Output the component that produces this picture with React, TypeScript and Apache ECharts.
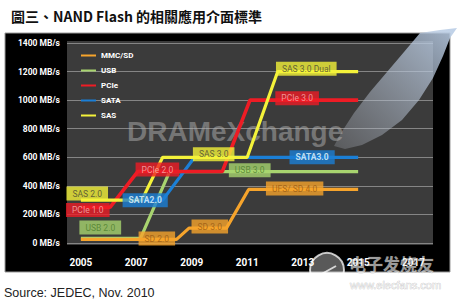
import React, { useEffect, useRef } from "react";
import * as echarts from "echarts";

const titleText = "圖三、NAND Flash 的相關應用介面標準";
const sourceText = "Source: JEDEC, Nov. 2010";
const watermarkText = "DRAMeXchange";

const yearTicks = [2005, 2007, 2009, 2011, 2013, 2015, 2017];

const seriesNames = ["MMC/SD", "USB", "PCIe", "SATA", "SAS"];

const mmcYears = [2005, 2008.45, 2008.9, 2010.25, 2011.05, 2015];
const mmcSpeeds = [25, 25, 104, 104, 375, 375];
const usbYears = [2005, 2007.15, 2008.2, 2015];
const usbSpeeds = [32, 32, 500, 500];
const pcieYears = [2005, 2006.05, 2007.05, 2010.1, 2011.1, 2015];
const pcieSpeeds = [250, 250, 500, 500, 1000, 1000];
const sataYears = [2006.8, 2007.95, 2009.1, 2015];
const sataSpeeds = [300, 300, 600, 600];
const sasYears = [2005, 2007.2, 2007.95, 2011, 2012.1, 2015];
const sasSpeeds = [300, 300, 600, 600, 1200, 1200];

const labelTexts = ["SAS 2.0", "PCIe 1.0", "USB 2.0", "SATA2.0", "PCIe 2.0", "SD 2.0", "SAS 3.0", "SD 3.0", "USB 3.0", "SAS 3.0 Dual", "PCIe 3.0", "SATA3.0", "UFS/ SD 4.0"];
const labelYears = [2005.23, 2005.25, 2005.7, 2007.32, 2007.76, 2007.74, 2009.79, 2009.65, 2011.09, 2013.13, 2012.8, 2013.34, 2012.71];
const labelSpeeds = [346, 231, 108, 300, 514, 31, 622, 115, 510, 1220, 1014, 601, 381];
const labelFamilies = ["SAS", "PCIe", "USB", "SATA", "PCIe", "MMC/SD", "SAS", "MMC/SD", "USB", "SAS", "PCIe", "SATA", "MMC/SD"];

const lineColors: Record<string, string> = {
  "MMC/SD": "#f6a42c",
  USB: "#a8d46f",
  PCIe: "#ee1c25",
  SATA: "#1b7fd6",
  SAS: "#f4f23a",
};
const boxTextColors: Record<string, string> = {
  "MMC/SD": "#9a5a12",
  USB: "#4d7d2c",
  PCIe: "#f9b3b3",
  SATA: "#e8fbff",
  SAS: "#444433",
};

const zip = (xs: number[], ys: number[]) => xs.map((x, i) => [x, ys[i]]);

export default function App() {
  const ref = useRef<HTMLDivElement>(null);
  useEffect(() => {
    document.body.style.margin = "0";
    if (!ref.current) return;
    const chart = echarts.init(ref.current, undefined, { renderer: "svg" });
    const lineSeries = (name: string, xs: number[], ys: number[], width = 3.2) => ({
      type: "line",
      name,
      data: zip(xs, ys),
      symbol: "none",
      lineStyle: { color: lineColors[name], width },
      itemStyle: { color: lineColors[name] },
      z: 3,
    });
    chart.setOption({
      animation: false,
      backgroundColor: "#ffffff",
      title: {
        text: titleText,
        left: 6,
        top: 4,
        textStyle: { fontSize: 14, fontWeight: "bold", color: "#111", fontFamily: "Noto Sans CJK TC" },
      },
      legend: {
        data: seriesNames,
        orient: "vertical",
        left: 76,
        top: 46,
        icon: "rect",
        itemWidth: 15,
        itemHeight: 2,
        itemGap: 6,
        textStyle: { color: "#ffffff", fontSize: 8, fontWeight: "bold", fontFamily: "Roboto", lineHeight: 9 },
      },
      grid: { left: 67, top: 43, width: 366, height: 200 },
      xAxis: {
        type: "value",
        min: 2004.5,
        max: 2017.7,
        axisLine: { show: false },
        axisTick: { show: false },
        splitLine: { show: false },
        axisLabel: {
          customValues: yearTicks,
          formatter: (v: number) => String(v),
          color: "#ffffff",
          fontSize: 10,
          fontWeight: "bold",
          fontFamily: "Roboto",
          margin: 14,
        },
      },
      yAxis: {
        type: "value",
        min: 0,
        max: 1400,
        interval: 200,
        axisLine: { show: false },
        axisTick: { show: false },
        splitLine: { lineStyle: { color: "#858585", width: 1 } },
        axisLabel: {
          formatter: (v: number) => `${v} MB/s`,
          color: "#ffffff",
          fontSize: 8.5,
          fontWeight: "bold",
          fontFamily: "Roboto",
          margin: 7,
        },
      },
      graphic: [
        { type: "rect", z: -20, shape: { x: 5, y: 33, width: 445, height: 239 }, style: { fill: "#000", stroke: "#9a9a9a", lineWidth: 1 } },
        { type: "rect", z: -19, shape: { x: 67, y: 41, width: 366, height: 204 }, style: { fill: "#3b3b3b" } },
        {
          type: "text", z: 1, x: 127, y: 117,
          style: { text: watermarkText, font: "bold 28px Liberation Sans", fill: "rgba(175,175,175,0.5)" },
        },
        {
          type: "polygon", z: 1,
          shape: {
            points: [
              [420, 33], [404, 52], [387, 72], [370, 92], [354, 113], [341, 133], [334, 146],
              [345, 149], [362, 145], [382, 135], [402, 120], [419, 100], [433, 78], [443, 56], [450, 38], [457, 28], [440, 30],
            ],
          },
          style: {
            fill: new echarts.graphic.LinearGradient(1, 0, 0, 1, [
              { offset: 0, color: "rgba(185,205,230,0.9)" },
              { offset: 1, color: "rgba(180,185,195,0.25)" },
            ]),
          },
        },
        {
          type: "text", x: 4, y: 286,
          style: { text: sourceText, font: "12.5px Liberation Sans", fill: "#222" },
        },
        { type: "circle", z: 20, shape: { cx: 327, cy: 270, r: 17 }, style: { fill: "rgba(255,255,255,0.35)", stroke: "rgba(255,255,255,0.75)", lineWidth: 2 } },
        { type: "line", z: 20, shape: { x1: 318, y1: 276, x2: 336, y2: 266 }, style: { stroke: "rgba(255,255,255,0.75)", lineWidth: 2 } },
        {
          type: "text", z: 20, x: 349, y: 255,
          style: { text: "电子发烧友", font: "bold 17px Noto Sans CJK SC", fill: "rgba(255,255,255,0.6)", stroke: "rgba(120,120,120,0.5)", lineWidth: 0.5 },
        },
        {
          type: "text", z: 20, x: 350, y: 279,
          style: { text: "www.elecfans.com", font: "11px Liberation Sans", fill: "rgba(255,255,255,0.7)", stroke: "rgba(150,150,150,0.6)", lineWidth: 0.6 },
        },
      ],
      series: [
        lineSeries("USB", usbYears, usbSpeeds),
        lineSeries("MMC/SD", mmcYears, mmcSpeeds),
        lineSeries("SATA", sataYears, sataSpeeds),
        lineSeries("PCIe", pcieYears, pcieSpeeds, 3.6),
        lineSeries("SAS", sasYears, sasSpeeds),
        {
          type: "scatter",
          name: "labels",
          symbolSize: 1,
          itemStyle: { color: "rgba(0,0,0,0)" },
          z: 10,
          silent: true,
          data: labelTexts.map((t, i) => ({
            name: t,
            value: [labelYears[i], labelSpeeds[i]],
            label: {
              backgroundColor: lineColors[labelFamilies[i]],
              color: boxTextColors[labelFamilies[i]],
              fontWeight: labelFamilies[i] === "SATA" ? "bold" : "normal",
            },
          })),
          label: {
            show: true,
            position: "inside",
            formatter: (p: any) => p.name,
            fontSize: 8.5,
            fontFamily: "Roboto",
            padding: [3, 6, 2, 6],
          },
        },
      ],
    });
    return () => chart.dispose();
  }, []);
  return <div ref={ref} style={{ width: 457, height: 301 }} />;
}
